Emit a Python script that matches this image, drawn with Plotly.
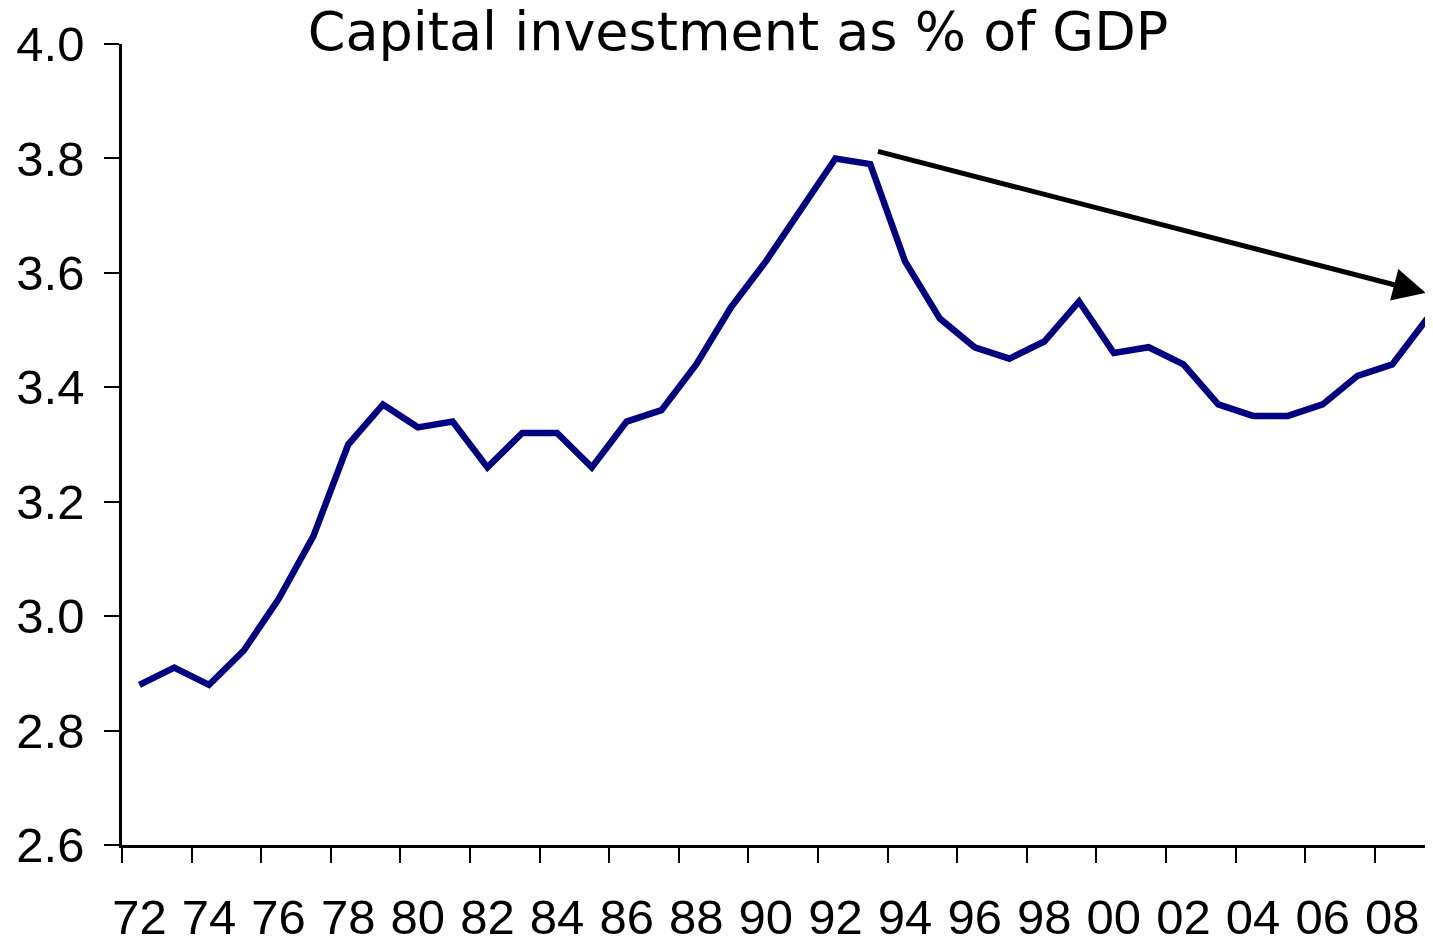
import plotly.graph_objects as go

years = ["72","73","74","75","76","77","78","79","80","81","82","83","84","85","86","87","88","89","90","91",
         "92","93","94","95","96","97","98","99","00","01","02","03","04","05","06","07","08","09"]
values = [2.88,2.91,2.88,2.94,3.03,3.14,3.30,3.37,3.33,3.34,3.26,3.32,3.32,3.26,3.34,3.36,3.44,3.54,3.62,3.71,
          3.80,3.79,3.62,3.52,3.47,3.45,3.48,3.55,3.46,3.47,3.44,3.37,3.35,3.35,3.37,3.42,3.44,3.52]
title_text = "Capital investment as % of GDP"
# trend arrow (category index, value)
arrow_start = (21.18, 3.813)
arrow_end = (36.96, 3.565)

fig = go.Figure()
fig.add_trace(go.Scatter(x=years, y=values, mode="lines",
                         line=dict(color="#000080", width=6.5), hoverinfo="skip"))

fig.add_annotation(x=arrow_end[0], y=arrow_end[1], ax=arrow_start[0], ay=arrow_start[1],
                   xref="x", yref="y", axref="x", ayref="y", text="", showarrow=True,
                   arrowhead=2, arrowsize=1.3, arrowwidth=5, arrowcolor="black", standoff=0)

fig.update_layout(
    width=1425, height=941,
    margin=dict(l=114, r=0, t=36, b=104, autoexpand=False),
    paper_bgcolor="white", plot_bgcolor="white",
    showlegend=False,
    title=dict(text=title_text, x=0.5123, xanchor="center", y=0.9756, yanchor="middle",
               font=dict(family="DejaVu Sans", size=54, color="black")),
    font=dict(family="Liberation Sans, Arial", color="black"),
)
fig.update_xaxes(type="category", range=[-0.5, 37.17], tickson="boundaries", dtick=2, tick0=0,
                 ticks="outside", ticklen=15, tickwidth=2, tickcolor="black", tickangle=0,
                 automargin=False, ticklabelstandoff=27,
                 showline=True, linewidth=2.5, linecolor="black", showgrid=False, zeroline=False,
                 tickfont=dict(size=49, family="Liberation Sans, Arial", color="black"))
fig.update_yaxes(range=[2.6, 4.0], dtick=0.2, tickformat=".1f",
                 ticks="outside", ticklen=15, tickwidth=2, tickcolor="black",
                 automargin=False,
                 showline=True, linewidth=2.5, linecolor="black", showgrid=False, zeroline=False,
                 ticklabelstandoff=10,
                 tickfont=dict(size=49, family="Liberation Sans, Arial", color="black"))

fig.write_html("out.html")
